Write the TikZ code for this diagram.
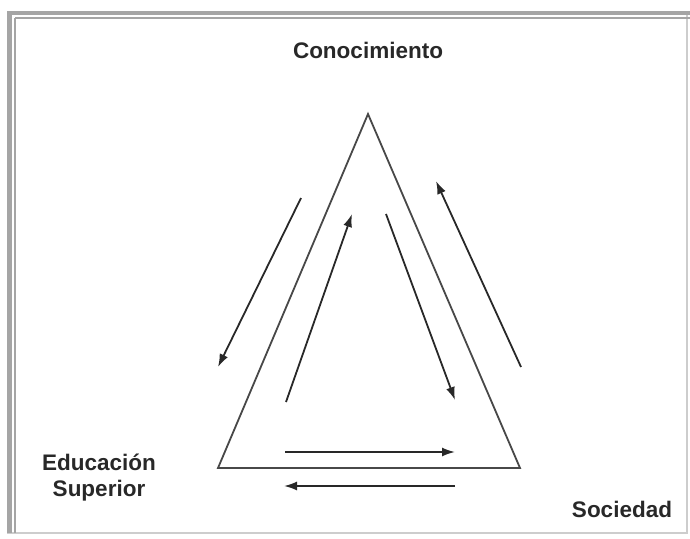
\documentclass[tikz,border=0pt]{standalone}
\usepackage{fontspec}
\setmainfont{Liberation Sans}
\usetikzlibrary{arrows.meta}
\definecolor{ink}{RGB}{40,40,40}
\definecolor{framegray}{RGB}{165,165,165}
\definecolor{framelight}{RGB}{205,205,205}
\begin{document}
\begin{tikzpicture}[x=1pt,y=-1pt,
  lbl/.style={font=\bfseries\fontsize{22.5}{27}\selectfont, text=ink, inner sep=0pt, align=center},
  tri/.style={draw=ink!85, line width=1.8pt, line join=miter},
  flow/.style={draw=ink, line width=1.8pt, -{Latex[length=13pt,width=9pt]}}]
\useasboundingbox (0,0) rectangle (690,538);
% frame
\draw[framelight, line width=1.2pt] (7.5,11.5) rectangle (687,533);
\fill[framegray] (7,11) rectangle (690,15);
\fill[framegray] (7,11) rectangle (12,533);
\draw[framegray, line width=1.2pt] (15,18) -- (690,18);
\draw[framegray, line width=1.2pt] (15,18) -- (15,533);
% triangle
\coordinate (apex) at (368,114);
\coordinate (bl) at (218,468);
\coordinate (br) at (520,468);
\draw[tri] (apex) -- (bl) -- (br) -- cycle;
% labels
\node[lbl] (con) at (368,50) {Conocimiento};
\node[lbl] (edu) at (99,478) {Educación\\[-1pt]Superior};
\node[lbl] (soc) at (622,509) {Sociedad};
% arrow endpoints
\coordinate (a1s) at (301,198); \coordinate (a1e) at (218,367);
\coordinate (a2s) at (286,402); \coordinate (a2e) at (352,214);
\coordinate (a3s) at (386,214); \coordinate (a3e) at (455,400);
\coordinate (a4s) at (521,367); \coordinate (a4e) at (436,181);
\coordinate (a5s) at (285,452); \coordinate (a5e) at (455,452);
\coordinate (a6s) at (455,486); \coordinate (a6e) at (284,486);
\draw[flow] (a1s) -- (a1e);
\draw[flow] (a2s) -- (a2e);
\draw[flow] (a3s) -- (a3e);
\draw[flow] (a4s) -- (a4e);
\draw[flow] (a5s) -- (a5e);
\draw[flow] (a6s) -- (a6e);
\end{tikzpicture}
\end{document}
